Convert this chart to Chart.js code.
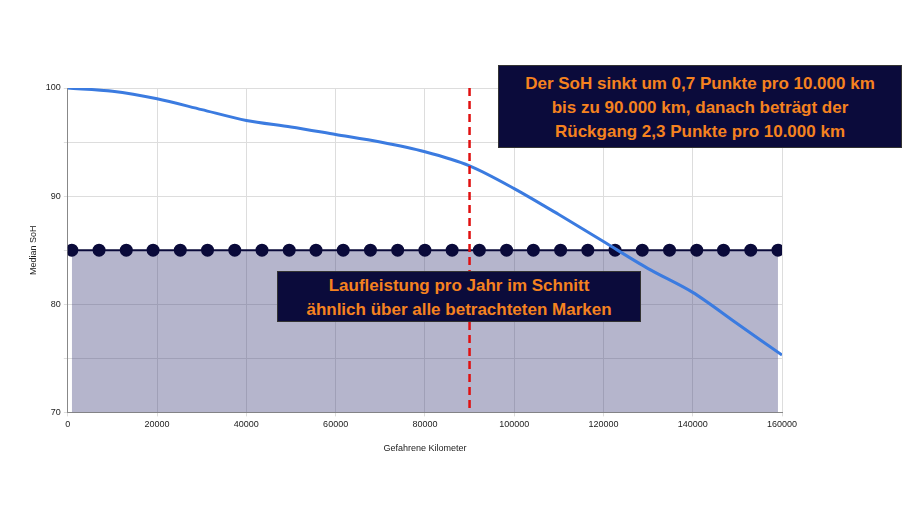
<!DOCTYPE html>
<html><head><meta charset="utf-8">
<script src="https://cdn.jsdelivr.net/npm/chart.js@4"></script>
<style>
body{margin:0;background:#fff;font-family:Arial,"Liberation Sans",sans-serif}
#wrap{position:relative;width:910px;height:512px}
.box{position:absolute;background:#0b0b3b;color:#f5821f;font-weight:bold;text-align:center;font-size:17px;line-height:24px;border:1px solid #333}
</style></head><body>
<div id="wrap"><canvas id="c" width="910" height="512"></canvas>
<div class="box" style="left:498px;top:65px;width:404px;height:83px;padding-top:6px;box-sizing:border-box">Der SoH sinkt um 0,7 Punkte pro 10.000 km<br>bis zu 90.000 km, danach beträgt der<br>Rückgang 2,3 Punkte pro 10.000 km</div>
<div class="box" style="left:277px;top:271px;width:364px;height:51px;padding-top:2px;box-sizing:border-box">Laufleistung pro Jahr im Schnitt<br>ähnlich über alle betrachteten Marken</div>
</div>
<script>
const km=[0,10000,20000,30000,40000,50000,60000,70000,80000,90000,100000,110000,120000,130000,140000,150000,160000];
const soh=[100,99.7,99,98,97,96.4,95.7,95,94.1,92.8,90.7,88.3,85.8,83.3,81.1,78.2,75.3];
const dotKm=[900,7000,13100,19100,25200,31300,37400,43500,49600,55600,61700,67800,73900,80000,86100,92200,98300,104300,110400,116500,122600,128700,134800,140900,146900,153000,159100];
const dotLevel=85;
const cutKm=90000;
const vline={id:'vline',afterDatasetsDraw(ch){const x=ch.scales.x.getPixelForValue(cutKm);const a=ch.chartArea;const c=ch.ctx;c.save();c.strokeStyle='#e01010';c.lineWidth=2.5;c.setLineDash([8,5]);c.beginPath();c.moveTo(x,a.top);c.lineTo(x,a.bottom);c.stroke();c.restore();}};
new Chart(document.getElementById('c'),{type:'scatter',
data:{datasets:[
{data:km.map((k,i)=>({x:k,y:soh[i]})),showLine:true,borderColor:'#3b7be0',borderWidth:3,pointRadius:0,tension:0.3,order:1},
{data:dotKm.map(k=>({x:k,y:dotLevel})),showLine:true,borderColor:'#0a0a3a',borderWidth:2,backgroundColor:'rgba(60,60,120,0.38)',fill:'start',pointRadius:5.5,pointBackgroundColor:'#0a0a3a',pointBorderColor:'#0a0a3a',order:2}
]},
options:{responsive:false,animation:false,layout:{padding:{left:24,right:128,top:88,bottom:54}},
plugins:{legend:{display:false},tooltip:{enabled:false}},
scales:{
x:{type:'linear',min:0,max:160000,ticks:{stepSize:20000,color:'#222',font:{size:9},callback:v=>String(v)},grid:{color:'#ddd',tickLength:4},border:{color:'#888'},title:{display:true,text:'Gefahrene Kilometer',color:'#222',font:{size:9},padding:{top:10}}},
y:{min:70,max:100,ticks:{stepSize:5,color:'#222',font:{size:9},callback:v=>v%10===0?String(v):''},grid:{color:'#ddd',tickLength:4},border:{color:'#888'},title:{display:true,text:'Median SoH',color:'#222',font:{size:9}}}
}},plugins:[vline]});
</script></body></html>
